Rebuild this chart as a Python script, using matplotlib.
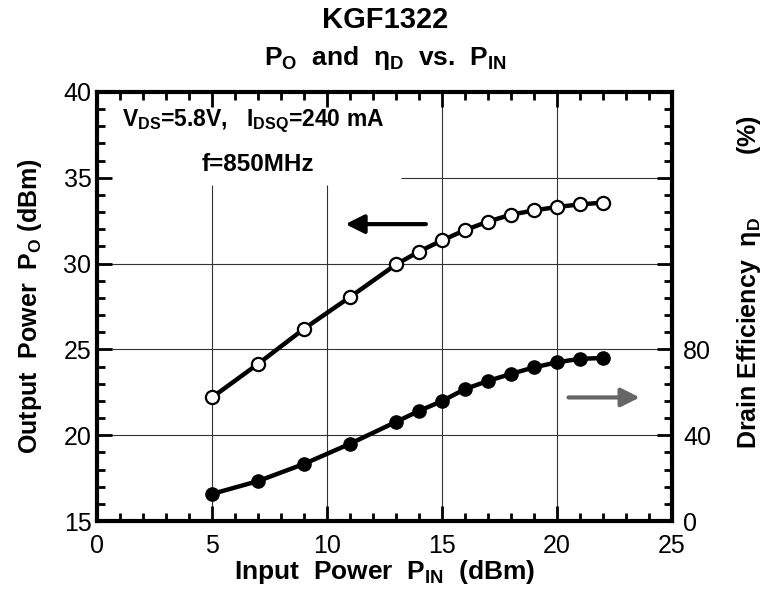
import matplotlib
matplotlib.use('Agg')
import matplotlib.pyplot as plt
from matplotlib.ticker import MultipleLocator, FixedLocator

plt.rcParams['font.family'] = ['Liberation Sans', 'DejaVu Sans']
plt.rcParams['mathtext.fontset'] = 'custom'
plt.rcParams['mathtext.rm'] = 'Liberation Sans:bold'
plt.rcParams['mathtext.it'] = 'Liberation Sans:bold'
plt.rcParams['mathtext.bf'] = 'Liberation Sans:bold'

# data (input power, dBm)
p_in = [5, 7, 9, 11, 13, 14, 15, 16, 17, 18, 19, 20, 21, 22]
# output power, dBm (open circles, left axis)
p_out = [22.2, 24.15, 26.2, 28.05, 29.95, 30.7, 31.35, 31.95, 32.45, 32.85,
         33.1, 33.3, 33.45, 33.55]
# drain efficiency, % (filled circles, right axis)
eff = [12.6, 18.6, 26.6, 36.0, 46.2, 51.3, 55.9, 61.5, 65.3, 68.6,
       71.6, 74.0, 75.6, 76.0]

x_ticks = [0, 5, 10, 15, 20, 25]
left_ticks = [15, 20, 25, 30, 35, 40]
right_ticks = [0, 40, 80]

fig = plt.figure(figsize=(7.66, 5.97), dpi=100)
ax = fig.add_axes([0.1266, 0.1273, 0.7507, 0.7186])
ax.set_xlim(0, 25)
ax.set_ylim(15, 40)

# grid, broken where the condition text sits
gc = '#333333'
ax.vlines([5, 10], 15, 34.6, color=gc, lw=0.8, zorder=1)
ax.vlines([15, 20], 15, 40, color=gc, lw=0.8, zorder=1)
ax.hlines([20, 25, 30], 0, 25, color=gc, lw=0.8, zorder=1)
ax.hlines([35], 13.2, 25, color=gc, lw=0.8, zorder=1)

ax.plot(p_in, p_out, '-o', color='black', lw=3.2, ms=9.5,
        mfc='white', mec='black', mew=1.6, zorder=3)

ax2 = ax.twinx()
ax2.set_ylim(0, 200)
ax2.plot(p_in, eff, '-o', color='black', lw=3.2, ms=9.5,
         mfc='black', mec='black', zorder=3)

for s in ax.spines.values():
    s.set_linewidth(3)
for s in ax2.spines.values():
    s.set_visible(False)

ax.xaxis.set_major_locator(FixedLocator(x_ticks))
ax.xaxis.set_minor_locator(MultipleLocator(1))
ax.yaxis.set_major_locator(FixedLocator(left_ticks))
ax.yaxis.set_minor_locator(MultipleLocator(1))
ax.tick_params(which='both', direction='in', top=True, right=True,
               width=2, labelsize=18, color='black')
ax.tick_params(which='major', length=11)
ax.tick_params(which='minor', length=6)
ax.tick_params(axis='x', pad=9)
ax.tick_params(axis='y', pad=4)

ax2.yaxis.set_major_locator(FixedLocator(right_ticks))
ax2.tick_params(axis='y', length=0, labelsize=18, pad=8)

ax.set_xlabel('Input  Power  P$_{\\mathrm{IN}}$  (dBm)', fontsize=19,
              fontweight='bold', labelpad=0)
ax.set_ylabel('Output  Power  P$_{\\mathrm{O}}$ (dBm)', fontsize=18,
              fontweight='bold', labelpad=14)
fig.text(0.978, 0.527, 'Drain Efficiency  \u03b7$_{\\mathrm{D}}$         (%)',
         rotation=90, ha='center', va='center', fontsize=18, fontweight='bold')

fig.text(0.503, 0.966, 'KGF1322', ha='center', va='center',
         fontsize=21, fontweight='bold')
fig.text(0.503, 0.903, 'P$_{\\mathrm{O}}$  and  \u03b7$_{\\mathrm{D}}$  vs.  P$_{\\mathrm{IN}}$',
         ha='center', va='center', fontsize=19, fontweight='bold')

ax.text(1.1, 38.3, 'V$_{\\mathrm{DS}}$=5.8V,   I$_{\\mathrm{DSQ}}$=240 mA',
        fontsize=16.5, fontweight='bold', va='center', ha='left')
ax.text(7.0, 35.8, 'f=850MHz', fontsize=17.5, fontweight='bold',
        va='center', ha='center')

ax.annotate('', xy=(10.8, 32.3), xytext=(14.3, 32.3),
            arrowprops=dict(arrowstyle='-|>', lw=3, color='black',
                            mutation_scale=28, shrinkA=0, shrinkB=0))
ax.annotate('', xy=(23.6, 22.2), xytext=(20.5, 22.2),
            arrowprops=dict(arrowstyle='-|>', lw=3, color='#666666',
                            mutation_scale=28, shrinkA=0, shrinkB=0))

fig.savefig('out.png', dpi=100)
